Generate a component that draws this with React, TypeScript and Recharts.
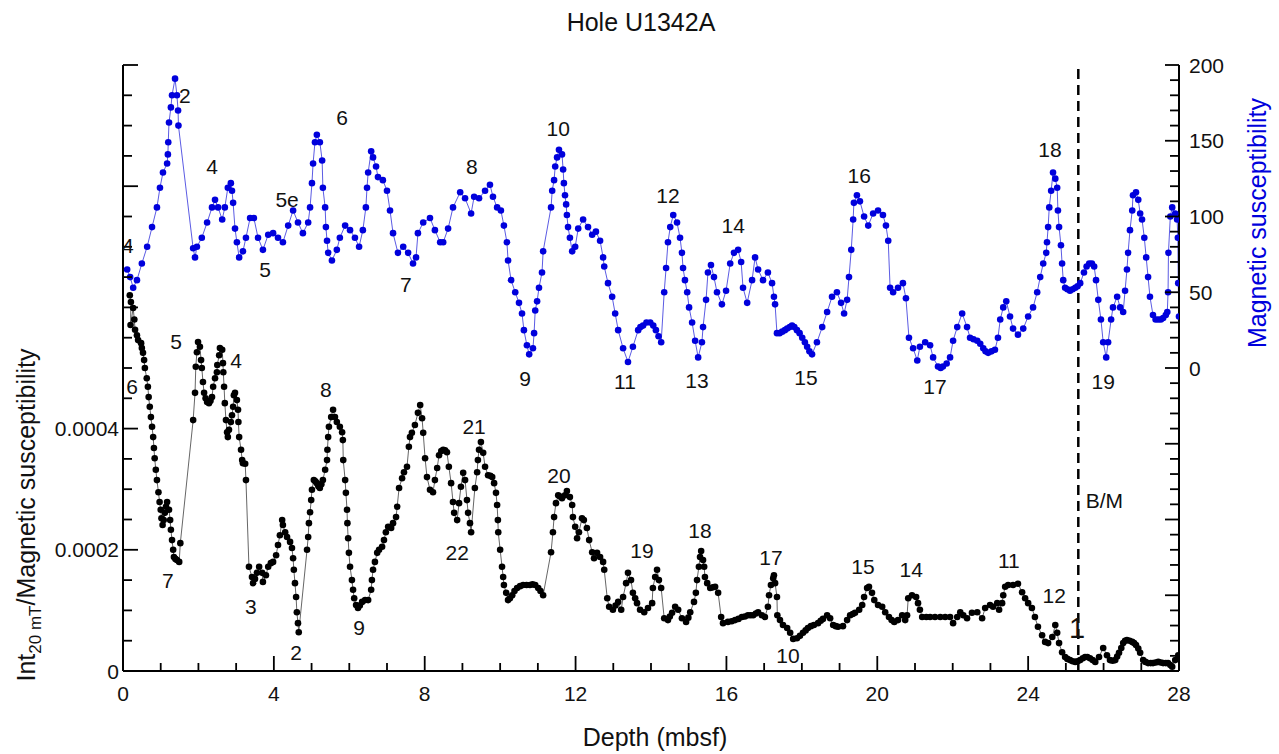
import { ComposedChart, Line, XAxis, YAxis, ReferenceLine, ReferenceDot } from "recharts";

const FONT = '"Liberation Sans", Arial, Helvetica, sans-serif';
const BLUE = "#0000dc";

// magnetic susceptibility (SI x 10^-5) vs depth (mbsf)
const suscPoints: [number, number][] = [
  [0.11, 65], [0.19, 60], [0.27, 53], [0.37, 58], [0.5, 69], [0.64, 80], [0.77, 93], [0.9, 106], [0.98, 119],
  [1.06, 129], [1.17, 135], [1.19, 141], [1.2, 149], [1.22, 162], [1.27, 172], [1.3, 180], [1.38, 191],
  [1.43, 180], [1.46, 170], [1.47, 160],
  [1.86, 79], [1.91, 73], [1.96, 80], [2.09, 86], [2.23, 96], [2.36, 106], [2.44, 111], [2.52, 106], [2.63, 98],
  [2.7, 106], [2.78, 119], [2.86, 122], [2.89, 117], [2.92, 109], [2.97, 92], [3.02, 83], [3.08, 73], [3.18, 77],
  [3.26, 86], [3.37, 99], [3.47, 99], [3.58, 86], [3.71, 78], [3.85, 88], [3.98, 89], [4.11, 86], [4.24, 83],
  [4.38, 94], [4.51, 104], [4.64, 96], [4.77, 89], [4.91, 96], [4.96, 106], [5.01, 122], [5.04, 135], [5.09, 149],
  [5.14, 154], [5.22, 149], [5.28, 137], [5.3, 119], [5.36, 106], [5.38, 93], [5.41, 84], [5.44, 76], [5.54, 71],
  [5.67, 78], [5.75, 86], [5.89, 94], [6.02, 91], [6.15, 86], [6.26, 80], [6.36, 91], [6.44, 106], [6.47, 119],
  [6.5, 129], [6.58, 143], [6.63, 139], [6.71, 133], [6.76, 126], [6.89, 124], [7.0, 117], [7.08, 104], [7.16, 89],
  [7.29, 76], [7.43, 80], [7.56, 76], [7.69, 69], [7.77, 73],
  [7.82, 89], [7.96, 96], [8.14, 99], [8.27, 91], [8.41, 83], [8.49, 83], [8.62, 92], [8.75, 106], [8.94, 116],
  [9.07, 112], [9.23, 102], [9.31, 113], [9.44, 112], [9.6, 117], [9.73, 121], [9.81, 113], [9.92, 106],
  [10.02, 104], [10.1, 94], [10.18, 83], [10.21, 71], [10.29, 58], [10.4, 50], [10.5, 43], [10.58, 36],
  [10.63, 25], [10.71, 15], [10.77, 9], [10.87, 13], [10.9, 23], [10.93, 38], [10.98, 44], [11.03, 53],
  [11.11, 63], [11.14, 77],
  [11.35, 106], [11.38, 117], [11.43, 124], [11.46, 133], [11.51, 139], [11.56, 144], [11.64, 141], [11.67, 131],
  [11.69, 122], [11.72, 114], [11.75, 108], [11.77, 101], [11.8, 93], [11.85, 86], [11.91, 77], [11.99, 80],
  [12.07, 92], [12.2, 98], [12.33, 93], [12.44, 88], [12.54, 90], [12.65, 84], [12.73, 73], [12.76, 67],
  [12.86, 56], [12.97, 47], [13.05, 36], [13.13, 25], [13.26, 13], [13.39, 4], [13.52, 14], [13.66, 25],
  [13.72, 27], [13.79, 28], [13.88, 30], [13.98, 30], [14.06, 28], [14.13, 25], [14.2, 21], [14.27, 17],
  [14.35, 50], [14.4, 66], [14.45, 83], [14.51, 93], [14.59, 101], [14.69, 96], [14.77, 86], [14.82, 76],
  [14.85, 66], [14.9, 58], [14.96, 50], [15.01, 40], [15.09, 30], [15.17, 18], [15.25, 7], [15.35, 17],
  [15.38, 27], [15.46, 45], [15.51, 63], [15.59, 68], [15.67, 60], [15.75, 50], [15.88, 42], [15.99, 51],
  [16.1, 69], [16.2, 76], [16.31, 78], [16.39, 70], [16.44, 53], [16.55, 43], [16.68, 58], [16.76, 73],
  [16.84, 65], [16.97, 58], [17.1, 63], [17.21, 56], [17.26, 47], [17.29, 42],
  [17.34, 23], [17.41, 23], [17.48, 24], [17.55, 25], [17.61, 26], [17.68, 27], [17.74, 28], [17.8, 27],
  [17.87, 25], [17.94, 23], [18.01, 20], [18.08, 17], [18.14, 14], [18.2, 11], [18.27, 9],
  [18.4, 17], [18.54, 27], [18.67, 37], [18.8, 47], [18.93, 50], [19.04, 43], [19.12, 36], [19.2, 45],
  [19.25, 60], [19.31, 78], [19.36, 98], [19.38, 109], [19.46, 114], [19.54, 110], [19.65, 100], [19.76, 94],
  [19.89, 102], [20.02, 104], [20.15, 101], [20.23, 94], [20.29, 84],
  [20.34, 53], [20.42, 50], [20.55, 53], [20.68, 56], [20.76, 46], [20.84, 20], [20.95, 13], [21.06, 5],
  [21.13, 14], [21.27, 17], [21.4, 15], [21.48, 7], [21.61, 1], [21.68, 0], [21.74, 1], [21.84, 3], [21.93, 7],
  [22.01, 18], [22.12, 27], [22.25, 36], [22.38, 27], [22.46, 20], [22.55, 19], [22.65, 18], [22.73, 16],
  [22.81, 13], [22.87, 11], [22.94, 10], [23.03, 11], [23.12, 12], [23.2, 20],
  [23.26, 32], [23.34, 40], [23.42, 44], [23.52, 34], [23.6, 26], [23.73, 22], [23.87, 26], [24.0, 34],
  [24.13, 40], [24.24, 50], [24.32, 60], [24.4, 69], [24.48, 76], [24.5, 83], [24.53, 93], [24.56, 106],
  [24.61, 117], [24.66, 129], [24.72, 125], [24.77, 119], [24.79, 104], [24.82, 93], [24.87, 81], [24.9, 69],
  [24.93, 58], [24.98, 53], [25.04, 52], [25.11, 51], [25.18, 52], [25.25, 53], [25.31, 54], [25.38, 56],
  [25.48, 63], [25.55, 67], [25.62, 69], [25.69, 69], [25.75, 67],
  [25.8, 58], [25.86, 45], [25.93, 32], [25.99, 17], [26.07, 7], [26.12, 17], [26.2, 32], [26.25, 40],
  [26.36, 47], [26.44, 40], [26.52, 37], [26.57, 51], [26.62, 65], [26.65, 76], [26.7, 91], [26.76, 104],
  [26.78, 114], [26.86, 116], [26.92, 111], [26.97, 102], [27.02, 98], [27.08, 86], [27.13, 73], [27.18, 60],
  [27.23, 47], [27.31, 35], [27.38, 32], [27.45, 32], [27.52, 32], [27.58, 33], [27.65, 35], [27.69, 37],
  [27.71, 50], [27.72, 76], [27.77, 100], [27.82, 106], [27.9, 102], [27.95, 98], [27.97, 86], [27.98, 56],
  [28.0, 34],
];

// Int20mT / magnetic susceptibility vs depth (mbsf)
const ratioPoints: [number, number][] = [
  [0.18, 6.2e-4], [0.21, 6.09e-4], [0.2, 5.71e-4], [0.27, 5.99e-4], [0.3, 5.8e-4], [0.32, 5.63e-4],
  [0.37, 5.54e-4], [0.4, 5.46e-4], [0.48, 5.41e-4], [0.5, 5.33e-4], [0.53, 5.25e-4], [0.56, 5.13e-4],
  [0.58, 5.0e-4], [0.63, 4.83e-4], [0.66, 4.69e-4], [0.68, 4.52e-4], [0.71, 4.36e-4], [0.74, 4.19e-4],
  [0.77, 4.03e-4], [0.8, 3.86e-4], [0.82, 3.68e-4], [0.84, 3.51e-4], [0.87, 3.32e-4], [0.9, 3.15e-4],
  [0.94, 2.95e-4], [0.97, 2.79e-4], [1.0, 2.66e-4], [1.02, 2.52e-4], [1.05, 2.41e-4], [1.08, 2.49e-4],
  [1.11, 2.61e-4], [1.14, 2.71e-4], [1.17, 2.79e-4], [1.22, 2.66e-4], [1.25, 2.49e-4], [1.27, 2.33e-4],
  [1.3, 2.16e-4], [1.33, 2.0e-4], [1.35, 1.88e-4], [1.39, 1.85e-4], [1.43, 1.83e-4], [1.49, 1.8e-4],
  [1.52, 2.11e-4],
  [1.86, 4.14e-4], [1.91, 4.59e-4], [1.93, 5.02e-4], [1.96, 5.26e-4], [1.99, 5.43e-4], [2.04, 5.35e-4],
  [2.07, 5.13e-4], [2.09, 5.0e-4], [2.12, 4.77e-4], [2.15, 4.59e-4], [2.19, 4.5e-4], [2.23, 4.44e-4],
  [2.28, 4.42e-4], [2.32, 4.46e-4], [2.36, 4.52e-4], [2.39, 4.69e-4], [2.44, 4.83e-4], [2.49, 4.93e-4],
  [2.5, 5.05e-4], [2.55, 5.21e-4], [2.57, 5.33e-4], [2.63, 5.3e-4], [2.65, 5.08e-4], [2.66, 4.93e-4],
  [2.68, 4.69e-4], [2.7, 4.42e-4], [2.73, 4.14e-4], [2.76, 3.94e-4], [2.78, 3.86e-4], [2.81, 3.98e-4],
  [2.86, 4.11e-4], [2.89, 4.22e-4], [2.92, 4.36e-4], [2.94, 4.55e-4], [2.97, 4.59e-4], [3.02, 4.47e-4],
  [3.05, 4.31e-4], [3.06, 4.11e-4], [3.08, 3.86e-4], [3.13, 3.65e-4], [3.16, 3.48e-4], [3.18, 3.43e-4],
  [3.24, 3.42e-4], [3.26, 3.15e-4],
  [3.34, 1.72e-4], [3.42, 1.55e-4], [3.45, 1.45e-4], [3.5, 1.52e-4], [3.55, 1.62e-4], [3.61, 1.72e-4],
  [3.69, 1.62e-4], [3.71, 1.47e-4], [3.79, 1.58e-4], [3.85, 1.72e-4], [3.92, 1.78e-4], [3.98, 1.8e-4],
  [4.06, 1.91e-4], [4.11, 2.08e-4], [4.16, 2.24e-4], [4.22, 2.49e-4], [4.24, 2.41e-4], [4.3, 2.29e-4],
  [4.35, 2.21e-4], [4.43, 2.13e-4], [4.48, 2.03e-4], [4.51, 1.86e-4], [4.53, 1.67e-4], [4.56, 1.45e-4],
  [4.59, 1.22e-4], [4.61, 0.97e-4], [4.64, 0.79e-4], [4.66, 0.64e-4],
  [4.88, 2.0e-4], [4.91, 2.21e-4], [4.93, 2.44e-4], [4.96, 2.62e-4], [4.99, 2.82e-4], [5.01, 2.99e-4],
  [5.06, 3.15e-4], [5.1, 3.13e-4], [5.14, 3.1e-4], [5.18, 3.05e-4], [5.22, 3.02e-4], [5.26, 3.08e-4],
  [5.3, 3.15e-4], [5.36, 3.32e-4], [5.41, 3.48e-4],
  [5.42, 3.65e-4], [5.44, 3.86e-4], [5.46, 4.03e-4], [5.52, 4.19e-4], [5.57, 4.31e-4], [5.62, 4.19e-4],
  [5.67, 4.11e-4], [5.75, 4.03e-4], [5.81, 3.94e-4], [5.83, 3.81e-4], [5.84, 3.48e-4], [5.89, 3.15e-4],
  [5.91, 2.94e-4], [5.94, 2.66e-4], [5.95, 2.44e-4], [5.97, 2.19e-4], [5.99, 1.95e-4], [6.02, 1.72e-4],
  [6.07, 1.5e-4], [6.1, 1.34e-4], [6.13, 1.2e-4], [6.18, 1.09e-4], [6.23, 1.04e-4], [6.28, 1.08e-4],
  [6.34, 1.14e-4], [6.42, 1.17e-4], [6.5, 1.17e-4], [6.58, 1.34e-4], [6.6, 1.5e-4], [6.63, 1.67e-4],
  [6.68, 1.8e-4], [6.74, 1.95e-4], [6.79, 2.0e-4], [6.87, 2.05e-4], [6.92, 2.16e-4], [6.97, 2.29e-4],
  [7.03, 2.38e-4], [7.11, 2.36e-4], [7.16, 2.44e-4], [7.24, 2.54e-4], [7.27, 2.71e-4], [7.32, 3.02e-4],
  [7.4, 3.18e-4], [7.45, 3.28e-4], [7.53, 3.37e-4], [7.58, 3.7e-4], [7.61, 3.86e-4], [7.66, 3.93e-4],
  [7.74, 4.06e-4], [7.82, 4.26e-4], [7.88, 4.39e-4], [7.93, 4.17e-4], [7.96, 3.93e-4], [8.01, 3.51e-4],
  [8.06, 3.2e-4], [8.14, 2.99e-4], [8.22, 2.95e-4], [8.27, 3.15e-4], [8.33, 3.35e-4], [8.38, 3.56e-4],
  [8.44, 3.63e-4], [8.49, 3.65e-4], [8.54, 3.64e-4], [8.59, 3.61e-4], [8.64, 3.37e-4], [8.7, 3.1e-4],
  [8.75, 2.79e-4], [8.78, 2.61e-4], [8.86, 2.49e-4], [8.91, 2.77e-4], [8.96, 3.04e-4], [9.02, 3.27e-4],
  [9.07, 3.15e-4], [9.12, 2.82e-4], [9.15, 2.61e-4], [9.2, 2.44e-4], [9.23, 2.29e-4], [9.33, 3.02e-4],
  [9.39, 3.28e-4], [9.41, 3.48e-4], [9.44, 3.65e-4], [9.49, 3.78e-4], [9.55, 3.6e-4], [9.6, 3.37e-4],
  [9.68, 3.23e-4], [9.74, 3.22e-4], [9.79, 3.2e-4], [9.84, 3.1e-4], [9.89, 2.94e-4], [9.92, 2.74e-4],
  [9.94, 2.49e-4], [9.95, 2.29e-4], [10.0, 2.0e-4], [10.05, 1.72e-4], [10.08, 1.55e-4], [10.1, 1.42e-4],
  [10.16, 1.29e-4], [10.21, 1.17e-4], [10.26, 1.2e-4], [10.32, 1.25e-4], [10.38, 1.32e-4], [10.45, 1.37e-4],
  [10.53, 1.4e-4], [10.61, 1.42e-4], [10.7, 1.42e-4], [10.79, 1.42e-4], [10.86, 1.43e-4], [10.93, 1.42e-4],
  [11.01, 1.37e-4], [11.07, 1.32e-4], [11.14, 1.25e-4],
  [11.35, 1.96e-4], [11.4, 2.29e-4], [11.43, 2.54e-4], [11.48, 2.77e-4], [11.54, 2.9e-4], [11.59, 2.88e-4],
  [11.64, 2.85e-4], [11.72, 2.9e-4], [11.77, 2.97e-4], [11.85, 2.87e-4], [11.91, 2.74e-4], [11.93, 2.54e-4],
  [11.99, 2.38e-4], [12.04, 2.19e-4], [12.09, 2.29e-4], [12.17, 2.52e-4], [12.22, 2.49e-4], [12.3, 2.36e-4],
  [12.36, 2.16e-4], [12.44, 1.96e-4], [12.49, 1.86e-4], [12.57, 1.95e-4], [12.65, 1.88e-4], [12.73, 1.8e-4],
  [12.76, 1.67e-4],
  [12.84, 1.2e-4], [12.89, 1.06e-4], [12.99, 1.01e-4], [13.06, 1.08e-4], [13.13, 1.14e-4], [13.21, 1.01e-4],
  [13.26, 1.22e-4], [13.34, 1.45e-4], [13.39, 1.62e-4], [13.47, 1.5e-4], [13.52, 1.29e-4], [13.58, 1.2e-4],
  [13.63, 1.12e-4], [13.71, 1.01e-4], [13.82, 0.97e-4], [13.92, 1.04e-4], [14.03, 1.12e-4], [14.05, 1.37e-4],
  [14.11, 1.55e-4], [14.16, 1.67e-4], [14.21, 1.5e-4], [14.27, 1.37e-4],
  [14.35, 0.87e-4], [14.45, 0.84e-4], [14.5, 0.9e-4], [14.56, 0.96e-4], [14.64, 1.06e-4], [14.72, 1.01e-4],
  [14.82, 0.87e-4], [14.93, 0.81e-4], [14.99, 0.88e-4], [15.04, 0.97e-4], [15.14, 1.14e-4], [15.19, 1.29e-4],
  [15.22, 1.5e-4], [15.27, 1.72e-4], [15.3, 1.88e-4], [15.33, 1.98e-4], [15.38, 1.83e-4], [15.41, 1.72e-4],
  [15.43, 1.55e-4], [15.49, 1.45e-4], [15.57, 1.37e-4], [15.64, 1.38e-4], [15.7, 1.39e-4], [15.78, 1.29e-4],
  [15.86, 0.89e-4], [15.91, 0.79e-4], [16.04, 0.81e-4], [16.14, 0.82e-4], [16.23, 0.84e-4], [16.32, 0.86e-4],
  [16.41, 0.89e-4], [16.49, 0.9e-4], [16.57, 0.92e-4], [16.64, 0.92e-4], [16.71, 0.92e-4], [16.78, 0.95e-4],
  [16.84, 0.97e-4], [16.94, 0.92e-4], [17.02, 0.89e-4], [17.1, 1.06e-4], [17.13, 1.25e-4], [17.18, 1.42e-4],
  [17.24, 1.53e-4], [17.26, 1.58e-4], [17.29, 1.45e-4], [17.34, 1.22e-4], [17.35, 0.92e-4], [17.42, 0.84e-4],
  [17.5, 0.76e-4], [17.61, 0.71e-4], [17.69, 0.63e-4], [17.77, 0.53e-4], [17.87, 0.54e-4], [17.95, 0.58e-4],
  [18.03, 0.63e-4], [18.1, 0.67e-4], [18.16, 0.71e-4], [18.24, 0.74e-4], [18.32, 0.76e-4], [18.43, 0.79e-4],
  [18.5, 0.83e-4], [18.56, 0.86e-4], [18.67, 0.92e-4], [18.75, 0.87e-4], [18.83, 0.76e-4], [18.9, 0.74e-4],
  [18.96, 0.73e-4], [19.09, 0.74e-4], [19.2, 0.84e-4], [19.28, 0.92e-4], [19.35, 0.94e-4], [19.41, 0.96e-4],
  [19.52, 1.01e-4], [19.6, 1.09e-4], [19.65, 1.22e-4], [19.73, 1.37e-4], [19.78, 1.39e-4], [19.86, 1.29e-4],
  [19.92, 1.17e-4], [20.02, 1.09e-4], [20.13, 1.06e-4], [20.21, 0.97e-4], [20.31, 0.89e-4], [20.38, 0.84e-4],
  [20.45, 0.81e-4], [20.55, 0.84e-4], [20.66, 0.92e-4], [20.74, 0.84e-4], [20.79, 0.92e-4], [20.82, 1.2e-4],
  [20.92, 1.25e-4], [21.03, 1.22e-4], [21.08, 1.12e-4], [21.13, 1.01e-4], [21.19, 0.89e-4], [21.3, 0.89e-4],
  [21.4, 0.89e-4], [21.53, 0.89e-4], [21.67, 0.89e-4], [21.8, 0.89e-4], [21.93, 0.89e-4], [22.01, 0.79e-4],
  [22.12, 0.89e-4], [22.2, 0.97e-4], [22.28, 0.92e-4], [22.38, 0.87e-4], [22.51, 0.96e-4], [22.65, 0.97e-4],
  [22.78, 0.87e-4], [22.86, 1.04e-4], [22.99, 1.09e-4], [23.07, 1.06e-4], [23.18, 1.12e-4], [23.23, 1.01e-4],
  [23.31, 1.12e-4], [23.34, 1.25e-4], [23.39, 1.39e-4], [23.47, 1.42e-4], [23.6, 1.42e-4], [23.73, 1.44e-4],
  [23.84, 1.3e-4], [23.92, 1.2e-4], [24.0, 1.12e-4], [24.1, 1.04e-4], [24.18, 0.89e-4], [24.26, 0.73e-4],
  [24.37, 0.59e-4], [24.45, 0.48e-4], [24.53, 0.46e-4], [24.64, 0.56e-4], [24.72, 0.76e-4], [24.77, 0.63e-4],
  [24.82, 0.46e-4], [24.9, 0.31e-4], [24.98, 0.23e-4], [25.04, 0.2e-4], [25.11, 0.18e-4], [25.18, 0.16e-4],
  [25.25, 0.15e-4], [25.31, 0.16e-4], [25.38, 0.18e-4], [25.45, 0.21e-4], [25.51, 0.23e-4], [25.57, 0.23e-4],
  [25.64, 0.21e-4], [25.71, 0.18e-4], [25.78, 0.15e-4], [25.88, 0.23e-4], [25.99, 0.38e-4], [26.09, 0.26e-4],
  [26.17, 0.18e-4], [26.24, 0.17e-4], [26.31, 0.18e-4], [26.36, 0.24e-4], [26.41, 0.3e-4], [26.47, 0.38e-4],
  [26.52, 0.46e-4], [26.57, 0.5e-4], [26.62, 0.51e-4], [26.69, 0.5e-4], [26.76, 0.48e-4], [26.81, 0.46e-4],
  [26.86, 0.43e-4], [26.92, 0.37e-4], [26.97, 0.3e-4], [27.05, 0.18e-4], [27.11, 0.15e-4], [27.18, 0.13e-4],
  [27.25, 0.13e-4], [27.31, 0.13e-4], [27.38, 0.14e-4], [27.45, 0.15e-4], [27.52, 0.14e-4], [27.58, 0.13e-4],
  [27.65, 0.13e-4], [27.71, 0.13e-4], [27.77, 0.1e-4], [27.82, 0.07e-4], [27.9, 0.18e-4], [27.98, 0.26e-4],
];

const depthTicks = Array.from({ length: 29 }, (_, i) => i);
const depthLabels = [0, 4, 8, 12, 16, 20, 24, 28];
const suscTicks = Array.from({ length: 41 }, (_, i) => -200 + i * 10);
const suscLabels = [0, 50, 100, 150, 200];
const ratioTicks = Array.from({ length: 21 }, (_, i) => i * 0.00005);
const ratioLabels: [number, string][] = [[0, "0"], [0.0002, "0.0002"], [0.0004, "0.0004"]];

// marine isotope stage numbers beside the susceptibility curve
const suscNotes = [
  { text: "4", depth: 0.13, value: 81 }, { text: "2", depth: 1.64, value: 180 },
  { text: "4", depth: 2.36, value: 133 }, { text: "5", depth: 3.77, value: 65 },
  { text: "5e", depth: 4.35, value: 111 }, { text: "6", depth: 5.81, value: 165 },
  { text: "7", depth: 7.5, value: 55 }, { text: "8", depth: 9.25, value: 133 },
  { text: "9", depth: 10.66, value: -7 }, { text: "10", depth: 11.54, value: 158 },
  { text: "11", depth: 13.31, value: -9 }, { text: "12", depth: 14.45, value: 114 },
  { text: "13", depth: 15.22, value: -8 }, { text: "14", depth: 16.18, value: 94 },
  { text: "15", depth: 18.11, value: -6 }, { text: "16", depth: 19.52, value: 127 },
  { text: "17", depth: 21.53, value: -12 }, { text: "18", depth: 24.58, value: 144 },
  { text: "19", depth: 25.99, value: -9 },
];

// relative paleointensity peak/trough numbers beside the ratio curve
const ratioNotes = [
  { text: "6", depth: 0.24, value: 4.7e-4 }, { text: "5", depth: 1.41, value: 5.43e-4 },
  { text: "4", depth: 3.0, value: 5.13e-4 }, { text: "7", depth: 1.19, value: 1.49e-4 },
  { text: "3", depth: 3.39, value: 1.07e-4 }, { text: "2", depth: 4.59, value: 0.31e-4 },
  { text: "8", depth: 5.38, value: 4.64e-4 }, { text: "9", depth: 6.26, value: 0.71e-4 },
  { text: "21", depth: 9.31, value: 4.04e-4 }, { text: "22", depth: 8.86, value: 1.95e-4 },
  { text: "20", depth: 11.56, value: 3.23e-4 }, { text: "19", depth: 13.76, value: 1.98e-4 },
  { text: "18", depth: 15.3, value: 2.31e-4 }, { text: "17", depth: 17.18, value: 1.88e-4 },
  { text: "10", depth: 17.63, value: 0.25e-4 }, { text: "15", depth: 19.62, value: 1.73e-4 },
  { text: "14", depth: 20.9, value: 1.67e-4 }, { text: "11", depth: 23.49, value: 1.83e-4 },
  { text: "12", depth: 24.69, value: 1.24e-4 }, { text: "B/M", depth: 26.02, value: 2.82e-4 },
];

const bmDepth = 25.33;

const suscData = suscPoints.map(([depth, susc]) => ({ depth, susc }));
const ratioData = ratioPoints.map(([depth, ratio]) => ({ depth, ratio }));

const W = 1279;
const H = 754;
const TICK_W = 1.8;
const LABEL_SIZE = 21;
const TITLE_SIZE = 25;
const DOT_R = 3.3;

function BottomTick(props: any) {
  const { x, y, payload } = props;
  const v = payload.value;
  const major = depthLabels.includes(v);
  return (
    <g>
      <line x1={x} y1={y} x2={x} y2={y - (major ? 15 : 8)} stroke="#000" strokeWidth={TICK_W} />
      {major && (
        <text x={x} y={y + 30} textAnchor="middle" fontSize={LABEL_SIZE} fill="#111">
          {v}
        </text>
      )}
    </g>
  );
}

function TopTick(props: any) {
  const { x, y } = props;
  return <line x1={x} y1={y} x2={x} y2={y + 11} stroke="#000" strokeWidth={TICK_W} />;
}

function RatioTick(props: any) {
  const { x, y, payload } = props;
  const v = payload.value;
  const major = Math.round(v / 0.00005) % 4 === 0;
  const lab = ratioLabels.find(([val]) => Math.abs(val - v) < 1e-9);
  return (
    <g>
      <line x1={x} y1={y} x2={x + (major ? 15 : 9)} y2={y} stroke="#000" strokeWidth={TICK_W} />
      {lab && (
        <text x={x - 4} y={y + 7.5} textAnchor="end" fontSize={LABEL_SIZE} fill="#111">
          {lab[1]}
        </text>
      )}
    </g>
  );
}

function SuscTick(props: any) {
  const { x, y, payload } = props;
  const v = payload.value;
  const major = v % 50 === 0;
  return (
    <g>
      <line x1={x} y1={y} x2={x - (major ? 14 : 9)} y2={y} stroke="#000" strokeWidth={TICK_W} />
      {suscLabels.includes(v) && (
        <text x={x + 10} y={y + 7.5} textAnchor="start" fontSize={LABEL_SIZE} fill="#111">
          {v}
        </text>
      )}
    </g>
  );
}

export default function App() {
  return (
    <div style={{ position: "absolute", left: 0, top: 0, width: W, height: H, background: "#fff", fontFamily: FONT }}>
      <ComposedChart width={W} height={H} margin={{ top: 65, right: 0, bottom: 0, left: 0 }}>
        <XAxis
          xAxisId="depth"
          dataKey="depth"
          type="number"
          domain={[0, 28]}
          ticks={depthTicks}
          interval={0}
          height={83}
          tickSize={0}
          tickMargin={0}
          tickLine={false}
          axisLine={{ stroke: "#000", strokeWidth: 2 }}
          tick={(p: any) => <BottomTick {...p} />}
          allowDataOverflow
        />
        <XAxis
          xAxisId="top"
          orientation="top"
          dataKey="depth"
          type="number"
          domain={[0, 28]}
          ticks={depthTicks}
          interval={0}
          height={0}
          tickSize={0}
          tickMargin={0}
          tickLine={false}
          axisLine={{ stroke: "#000", strokeWidth: 2 }}
          tick={(p: any) => <TopTick {...p} />}
          allowDataOverflow
        />
        <YAxis
          yAxisId="ratio"
          orientation="left"
          type="number"
          domain={[0, 0.001]}
          ticks={ratioTicks}
          interval={0}
          width={123}
          tickSize={0}
          tickMargin={0}
          tickLine={false}
          axisLine={{ stroke: "#000", strokeWidth: 2 }}
          tick={(p: any) => <RatioTick {...p} />}
          allowDataOverflow
        />
        <YAxis
          yAxisId="susc"
          orientation="right"
          type="number"
          domain={[-200, 200]}
          ticks={suscTicks}
          interval={0}
          width={100}
          tickSize={0}
          tickMargin={0}
          tickLine={false}
          axisLine={{ stroke: "#000", strokeWidth: 2 }}
          tick={(p: any) => <SuscTick {...p} />}
          allowDataOverflow
        />
        <ReferenceLine
          xAxisId="depth"
          yAxisId="susc"
          x={bmDepth}
          stroke="#000"
          strokeWidth={2.5}
          strokeDasharray="10 6"
        />
        <Line
          data={ratioData}
          xAxisId="depth"
          yAxisId="ratio"
          dataKey="ratio"
          stroke="#555"
          strokeWidth={0.9}
          dot={{ r: DOT_R, fill: "#000", stroke: "none" }}
          activeDot={false}
          isAnimationActive={false}
        />
        <Line
          data={suscData}
          xAxisId="depth"
          yAxisId="susc"
          dataKey="susc"
          stroke="#4848e0"
          strokeWidth={0.9}
          dot={{ r: DOT_R, fill: BLUE, stroke: "none" }}
          activeDot={false}
          isAnimationActive={false}
        />
        {suscNotes.map((n, i) => (
          <ReferenceDot
            key={"s" + i}
            xAxisId="depth"
            yAxisId="susc"
            x={n.depth}
            y={n.value}
            r={0}
            fill="none"
            stroke="none"
            ifOverflow="visible"
            label={{ value: n.text, position: "center", fontSize: LABEL_SIZE, fill: "#111" }}
          />
        ))}
        {ratioNotes.map((n, i) => (
          <ReferenceDot
            key={"r" + i}
            xAxisId="depth"
            yAxisId="ratio"
            x={n.depth}
            y={n.value}
            r={0}
            fill="none"
            stroke="none"
            ifOverflow="visible"
            label={{ value: n.text, position: "center", fontSize: LABEL_SIZE, fill: "#111" }}
          />
        ))}
        <ReferenceDot
          xAxisId="depth"
          yAxisId="ratio"
          x={25.3}
          y={0.71e-4}
          r={0}
          fill="none"
          stroke="none"
          ifOverflow="visible"
          label={{ value: "1", position: "center", fontSize: 29, fill: "#111" }}
        />
      </ComposedChart>
      <svg width={W} height={H} style={{ position: "absolute", left: 0, top: 0, pointerEvents: "none" }}>
        <text x={641} y={31} textAnchor="middle" fontSize={TITLE_SIZE} fill="#111">
          Hole U1342A
        </text>
        <text x={655} y={746} textAnchor="middle" fontSize={TITLE_SIZE} fill="#111">
          Depth (mbsf)
        </text>
        <text transform="translate(35,515) rotate(-90)" textAnchor="middle" fontSize={TITLE_SIZE} fill="#111">
          Int
          <tspan fontSize={17} dy={6}>20 mT</tspan>
          <tspan dy={-6}>/Magnetic susceptibility</tspan>
        </text>
        <text transform="translate(1266,223) rotate(-90)" textAnchor="middle" fontSize={TITLE_SIZE} fill={BLUE}>
          Magnetic susceptibility
        </text>
      </svg>
    </div>
  );
}
